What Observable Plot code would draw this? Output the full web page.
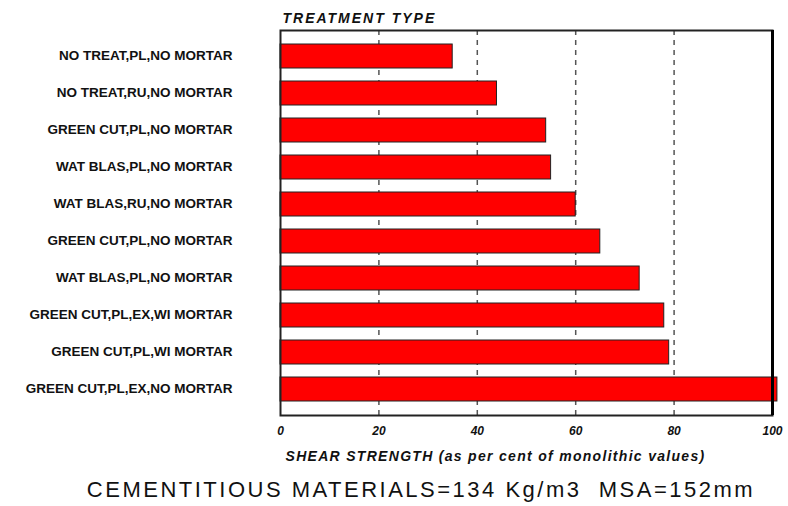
<!DOCTYPE html>
<html>
<head>
<meta charset="utf-8">
<script src="https://cdn.jsdelivr.net/npm/d3@7"></script>
<script src="https://cdn.jsdelivr.net/npm/@observablehq/plot@0.6"></script>
<style>
  body { margin: 0; background: #fff; font-family: "Liberation Sans", Arial, sans-serif; }
  #chart svg { display: block; }
  #caption { position: absolute; left: 0; top: 477px; width: 842px; text-align: center; white-space: pre;
    font-family: "Liberation Sans", Arial, sans-serif; font-size: 22px; letter-spacing: 2.5px; color: #111; }
</style>
</head>
<body>
<div id="chart"></div>
<div id="caption"></div>
<script>
const treatments = [
  "NO TREAT,PL,NO MORTAR",
  "NO TREAT,RU,NO MORTAR",
  "GREEN CUT,PL,NO MORTAR",
  "WAT BLAS,PL,NO MORTAR",
  "WAT BLAS,RU,NO MORTAR",
  "GREEN CUT,PL,NO MORTAR",
  "WAT BLAS,PL,NO MORTAR",
  "GREEN CUT,PL,EX,WI MORTAR",
  "GREEN CUT,PL,WI MORTAR",
  "GREEN CUT,PL,EX,NO MORTAR"
];
const shearStrength = [35, 44, 54, 55, 60, 65, 73, 78, 79, 101];
const xTicks = [0, 20, 40, 60, 80, 100];
const gridValues = [20, 40, 60, 80];
const titleText = "TREATMENT TYPE";
const xLabelText = "SHEAR STRENGTH (as per cent of monolithic values)";
const captionText = "CEMENTITIOUS MATERIALS=134 Kg/m3  MSA=152mm";

const data = treatments.map((t, i) => ({key: i, label: t, value: shearStrength[i]}));

const chart = Plot.plot({
  width: 788,
  height: 472,
  marginLeft: 280,
  marginRight: 16,
  marginTop: 30,
  marginBottom: 57,
  style: {fontFamily: "'Liberation Sans', Arial, sans-serif", background: "#fff", overflow: "visible"},
  x: {domain: [0, 100]},
  y: {domain: data.map(d => d.key), padding: 0.34},
  marks: [
    Plot.ruleX(gridValues, {stroke: "#555", strokeWidth: 1.5, strokeDasharray: "5,5"}),
    Plot.barX(data, {y: "key", x: "value", fill: "#ff0000", stroke: "#222", strokeWidth: 1}),
    Plot.frame({stroke: "#222", strokeWidth: 2}),
    Plot.ruleX([100], {stroke: "#000", strokeWidth: 3}),
    Plot.axisY({
      tickSize: 0, tickPadding: 48, label: null, dy: -1,
      tickFormat: i => treatments[i], fontSize: 13.5, fontWeight: "bold", fill: "#111"
    }),
    Plot.axisX(xTicks, {
      tickSize: 0, tickPadding: 11, label: null,
      fontSize: 12, fontWeight: "bold", fontStyle: "italic", fill: "#111"
    }),
    Plot.text([titleText], {
      frameAnchor: "top-left", textAnchor: "start", dx: 2, dy: -17,
      fontSize: 14, fontWeight: "bold", fontStyle: "italic", fill: "#111"
    }),
    Plot.text([xLabelText], {
      frameAnchor: "bottom-left", textAnchor: "start", dx: 5, dy: 45,
      fontSize: 14, fontWeight: "bold", fontStyle: "italic", fill: "#111"
    })
  ]
});
chart.querySelectorAll("text").forEach(t => {
  if (t.textContent === titleText) t.setAttribute("letter-spacing", "2");
  if (t.textContent === xLabelText) t.setAttribute("letter-spacing", "1.3");
});
document.getElementById("chart").append(chart);
document.getElementById("caption").textContent = captionText;
</script>
</body>
</html>
